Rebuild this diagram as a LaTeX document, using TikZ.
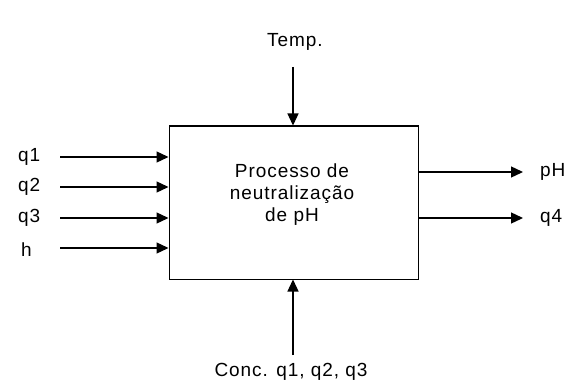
\documentclass[tikz,border=0pt]{standalone}
\usepackage{fontspec}
\setmainfont{Liberation Sans}[LetterSpace=5]
\usetikzlibrary{arrows.meta}
\tikzset{
  lbl/.style={font=\fontsize{19}{23}\selectfont, inner sep=0pt},
  flow/.style={line width=1.3pt, -{Triangle[length=12pt,width=11pt]}},
  procbox/.style={draw, line width=1pt, minimum width=249pt, minimum height=153pt, inner sep=0pt}
}
\begin{document}
\begin{tikzpicture}[x=1pt,y=-1pt]
\useasboundingbox (0,0) rectangle (567,385);
\node[procbox] (box) at (293.5,202.5) {};
\node[lbl, align=center] (txt) at (292,195) {Processo de\\[-1pt]neutralização\\[-1pt]de pH};
% top
\node[lbl] (temp) at (295,42) {Temp.};
\coordinate (tstart) at (293,67);
\draw[flow] (tstart) -- (tstart |- box.north);
% bottom
\node[lbl] (conc) at (291,372) {Conc. q1, q2, q3};
\coordinate (bstart) at (293,355);
\draw[flow] (bstart) -- (bstart |- box.south);
% left inputs
\node[lbl, anchor=west] (q1) at (18,157) {q1};
\node[lbl, anchor=west] (q2) at (18,187) {q2};
\node[lbl, anchor=west] (q3) at (18,218) {q3};
\node[lbl, anchor=west] (h) at (21,250) {h};
\coordinate (l1) at (60,157);
\coordinate (l2) at (60,187);
\coordinate (l3) at (60,218);
\coordinate (l4) at (60,248);
\draw[flow] (l1) -- (l1 -| box.west);
\draw[flow] (l2) -- (l2 -| box.west);
\draw[flow] (l3) -- (l3 -| box.west);
\draw[flow] (l4) -- (l4 -| box.west);
% right outputs
\node[lbl, anchor=west] (ph) at (540,172) {pH};
\node[lbl, anchor=west] (q4) at (540,218) {q4};
\coordinate (r1) at (523,172);
\coordinate (r2) at (523,218);
\draw[flow] (r1 -| box.east) -- (r1);
\draw[flow] (r2 -| box.east) -- (r2);
\end{tikzpicture}
\end{document}
